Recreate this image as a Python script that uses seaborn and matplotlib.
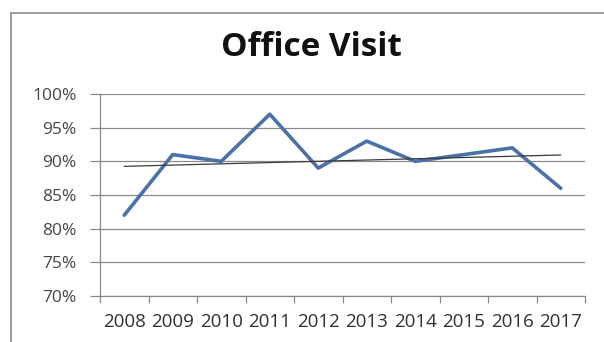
import matplotlib
matplotlib.use("Agg")
import matplotlib.pyplot as plt
import seaborn as sns
import numpy as np
import pandas as pd
from matplotlib.patches import Rectangle
from matplotlib.ticker import FixedLocator, PercentFormatter

years = ["2008", "2009", "2010", "2011", "2012", "2013", "2014", "2015", "2016", "2017"]
visit_pct = [82, 91, 90, 97, 89, 93, 90, 91, 92, 86]
y_ticks = [70, 75, 80, 85, 90, 95, 100]

df = pd.DataFrame({"idx": np.arange(len(years)), "year": years, "pct": visit_pct})

sns.set_theme(style="white")
plt.rcParams["font.family"] = ["Open Sans", "DejaVu Sans"]

fig = plt.figure(figsize=(6.04, 3.42), dpi=100)
fig.patch.set_facecolor("white")
# outer chart border
fig.add_artist(Rectangle((11 / 604, -0.05), 1.0, (342 - 13) / 342 + 0.05,
                         transform=fig.transFigure, fill=False,
                         edgecolor="#8c8c8c", linewidth=1.2))

ax = fig.add_axes([100 / 604, 1 - 296 / 342, (585 - 100) / 604, (296 - 94) / 342])

sns.lineplot(data=df, x="idx", y="pct", ax=ax, color="#4a72a8", linewidth=2.6, zorder=3)
sns.regplot(data=df, x="idx", y="pct", ax=ax, scatter=False, ci=None,
            line_kws={"color": "#3a3a3a", "linewidth": 0.9, "zorder": 4})

ax.set_xlim(-0.5, len(years) - 0.5)
ax.set_ylim(70, 100)
ax.set_yticks(y_ticks)
ax.yaxis.set_major_formatter(PercentFormatter(decimals=0))
ax.set_xticks(np.arange(len(years)))
ax.set_xticklabels(years)
ax.xaxis.set_minor_locator(FixedLocator(np.arange(-0.5, len(years), 1.0)))

ax.grid(axis="y", color="#8a8a8a", linewidth=0.9)
ax.set_axisbelow(True)
for s in ["top", "right"]:
    ax.spines[s].set_visible(False)
for s in ["left", "bottom"]:
    ax.spines[s].set_color("#8a8a8a")
    ax.spines[s].set_linewidth(0.9)

ax.tick_params(axis="y", which="major", left=True, length=7, width=0.9, color="#8a8a8a",
               labelsize=12.5, labelcolor="#454545", pad=10)
ax.tick_params(axis="x", which="major", bottom=False, length=0, labelsize=13.5,
               labelcolor="#303030", pad=12)
ax.tick_params(axis="x", which="minor", bottom=True, length=5, width=0.9, color="#8a8a8a")

ax.set_xlabel("")
ax.set_ylabel("")
fig.text(0.515, 1 - 48 / 342, "Office Visit", ha="center", va="center",
         fontsize=24, fontweight="bold", color="#111111")

fig.savefig("out.png", dpi=100, facecolor="white")
